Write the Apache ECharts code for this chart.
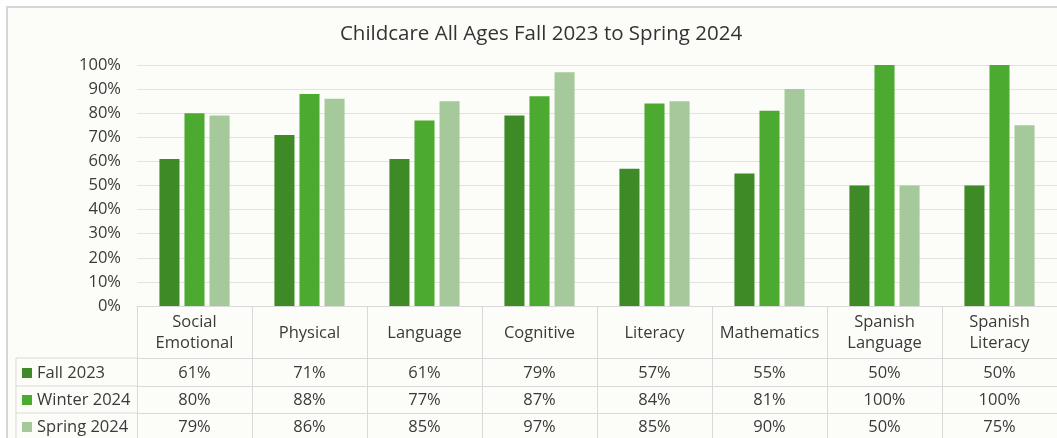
<!DOCTYPE html>
<html>
<head>
<meta charset="utf-8">
<script src="https://cdn.jsdelivr.net/npm/echarts@6/dist/echarts.min.js"></script>
<style>
html,body{margin:0;padding:0;background:#ffffff;}
#main{width:1057px;height:438px;}
</style>
</head>
<body>
<div id="main"></div>
<script>
const titleText = 'Childcare All Ages Fall 2023 to Spring 2024';
const categories = ['Social\nEmotional','Physical','Language','Cognitive','Literacy','Mathematics','Spanish\nLanguage','Spanish\nLiteracy'];
const seriesNames = ['Fall 2023','Winter 2024','Spring 2024'];
const fall2023 = [61,71,61,79,57,55,50,50];
const winter2024 = [80,88,77,87,84,81,100,100];
const spring2024 = [79,86,85,97,85,90,50,75];
const yTicks = [0,10,20,30,40,50,60,70,80,90,100];
const colors = ['#3e8a26','#4caa30','#a6c99c'];

const seriesData = [fall2023, winter2024, spring2024];
const FONT = '"Open Sans", "Noto Sans", sans-serif';
const TXT = '#3a3a3a';
const LINE = '#d9d9d9';

// layout constants
const gridLeft = 137, gridTop = 65, gridBottomY = 306, gridWidth = 926;
const headerH = 52;
const rowOffsets = [52, 80, 107];
const rowCenters = [373, 400, 427];
const tableLeft = 16;

const chart = echarts.init(document.getElementById('main'));

const xAxes = [{
  type:'category', gridIndex:0, position:'bottom', data:categories,
  axisLine:{show:true, lineStyle:{color:LINE, width:1}},
  axisTick:{show:true, interval:0, length:140, lineStyle:{color:LINE, width:1}},
  axisLabel:{interval:0, color:TXT, fontFamily:FONT, fontSize:16.5, lineHeight:21,
    verticalAlign:'middle', margin:headerH/2 + 1, align:'center'}
}];
seriesData.forEach((arr, i) => {
  xAxes.push({
    type:'category', gridIndex:0, position:'bottom', offset:rowOffsets[i],
    data: arr.map(v => v + '%'),
    axisLine:{show:true, lineStyle:{color:LINE, width:1}},
    axisTick:{show:false},
    axisLabel:{interval:0, color:TXT, fontFamily:FONT, fontSize:16.5,
      verticalAlign:'middle', margin: rowCenters[i] - (gridBottomY + rowOffsets[i]), align:'center'}
  });
});

const option = {
  backgroundColor:'#ffffff',
  animation:false,
  title:{text:titleText, left:536, textAlign:'center', top:19,
    textStyle:{fontFamily:FONT, fontSize:20.5, fontWeight:'normal', color:'#333333'}},
  legend:{
    orient:'vertical', left:22, top:363, itemGap:7, itemWidth:10, itemHeight:10,
    padding:0, icon:'rect', selectedMode:false, height:90,
    textStyle:{fontFamily:FONT, fontSize:16.5, color:TXT, lineHeight:20},
    data: seriesNames
  },
  grid:{left:gridLeft, top:gridTop, width:gridWidth, height:gridBottomY - gridTop, containLabel:false},
  xAxis: xAxes,
  yAxis:{
    type:'value', min:0, max:1, interval:0.1,
    axisLine:{show:false}, axisTick:{show:false},
    splitLine:{show:true, lineStyle:{color:'#e3e3e3', width:1}},
    axisLabel:{color:TXT, fontFamily:FONT, fontSize:16.5, margin:16,
      formatter: v => Math.round(v*100) + '%'}
  },
  graphic:[
    {type:'rect', z:-10, silent:true,
      shape:{x:7, y:7, width:1070, height:450},
      style:{fill:'#fcfcf8', stroke:'#d6d6d6', lineWidth:2}},
    {type:'line', silent:true, shape:{x1:tableLeft, y1:gridBottomY+rowOffsets[0], x2:tableLeft, y2:440}, style:{stroke:LINE, lineWidth:1}},
    ...rowOffsets.map(o => ({type:'line', silent:true,
      shape:{x1:tableLeft, y1:gridBottomY+o, x2:gridLeft, y2:gridBottomY+o}, style:{stroke:LINE, lineWidth:1}}))
  ],
  series: seriesNames.map((name, i) => ({
    name, type:'bar', xAxisIndex:0, yAxisIndex:0,
    data: seriesData[i].map(v => v/100),
    barGap:'25%', barCategoryGap:'39%',
    itemStyle:{color:colors[i]}
  }))
};
chart.setOption(option);
</script>
</body>
</html>
